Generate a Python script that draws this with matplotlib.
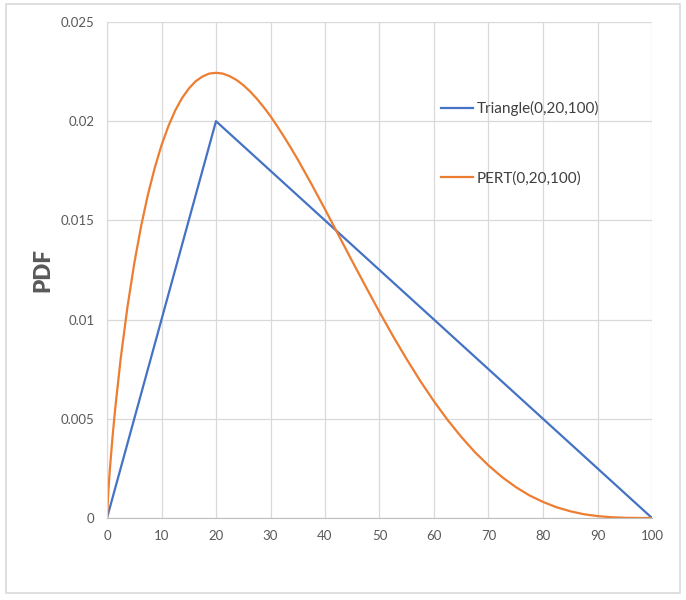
import matplotlib.pyplot as plt
from matplotlib.patches import Rectangle

plt.rcParams['font.family'] = ['Lato', 'DejaVu Sans']

# triangle distribution corners
tri_x = [0, 20, 100]
tri_y = [0, 0.02, 0]

# PERT(0,20,100) curve
pert_x = [0, 0.25, 0.5, 1, 1.5, 2.5, 3.75, 5, 6.25, 7.5, 8.75, 10, 11.25,
          12.5, 13.75, 15, 16.25, 17.5, 18.75, 20, 21.25, 22.5, 23.75, 25,
          26.25, 27.5, 28.75, 30, 31.25, 32.5, 33.75, 35, 37.5, 40, 42.5, 45,
          47.5, 50, 52.5, 55, 57.5, 60, 62.5, 65, 67.5, 70, 72.5, 75, 77.5,
          80, 82.5, 85, 87.5, 90, 92.5, 95, 97.5, 100]
pert_y = [0, 0.00137, 0.00236, 0.00404, 0.00550, 0.00801, 0.01063, 0.01283,
          0.01470, 0.01629, 0.01764, 0.01879, 0.01974, 0.02053, 0.02116,
          0.02164, 0.02201, 0.02225, 0.02240, 0.02244, 0.02240, 0.02227,
          0.02208, 0.02182, 0.02150, 0.02113, 0.02071, 0.02025, 0.01974,
          0.01921, 0.01865, 0.01807, 0.01684, 0.01556, 0.01425, 0.01294,
          0.01165, 0.01038, 0.00916, 0.00800, 0.00690, 0.00588, 0.00494,
          0.00409, 0.00332, 0.00265, 0.00206, 0.00156, 0.00114, 0.00081,
          0.00054, 0.00034, 0.00019, 0.0000964, 0.0000392, 0.000011,
          0.0000012, 0]

x_ticks = [0, 10, 20, 30, 40, 50, 60, 70, 80, 90, 100]
y_ticks = [0, 0.005, 0.01, 0.015, 0.02, 0.025]
y_labels = ['0', '0.005', '0.01', '0.015', '0.02', '0.025']

fig = plt.figure(figsize=(6.86, 6.0), dpi=100)
fig.patches.append(Rectangle((6 / 686, 7 / 600), 674 / 686, 589 / 600,
                             transform=fig.transFigure, fill=False,
                             edgecolor='#d9d9d9', linewidth=1.2))
ax = fig.add_axes([107 / 686, 1 - 518 / 600, 545 / 686, 496 / 600])

ax.plot(tri_x, tri_y, color='#4472C4', linewidth=1.6, label='Triangle(0,20,100)')
ax.plot(pert_x, pert_y, color='#ED7D31', linewidth=1.6, label='PERT(0,20,100)')

ax.set_xlim(0, 100)
ax.set_ylim(0, 0.025)
ax.set_xticks(x_ticks)
ax.set_yticks(y_ticks)
ax.set_yticklabels(y_labels)
ax.grid(True, color='#d9d9d9', linewidth=0.9)
ax.set_axisbelow(True)
for s in ['top', 'right']:
    ax.spines[s].set_visible(False)
ax.spines['left'].set_color('#d9d9d9')
ax.spines['bottom'].set_color('#bfbfbf')
ax.tick_params(length=0, labelsize=9.5, colors='#595959', pad=9)

ax.set_ylabel('PDF', fontsize=16, fontweight='heavy', color='#595959', labelpad=5)

leg = ax.legend(loc='upper left', bbox_to_anchor=(0.588, 0.868), frameon=False,
                fontsize=11, labelspacing=3.6, handlelength=2.1,
                handletextpad=0.2)
for t in leg.get_texts():
    t.set_color('#404040')

fig.savefig('out.png', dpi=100)
